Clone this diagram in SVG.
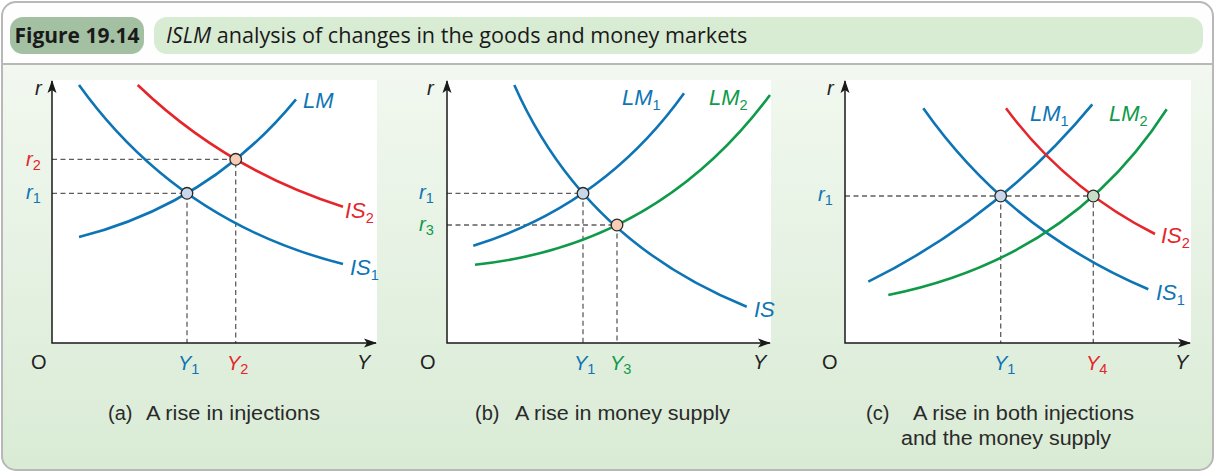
<svg xmlns="http://www.w3.org/2000/svg" width="1216" height="473" viewBox="0 0 1216 473">
<defs>
<linearGradient id="bg" x1="0" y1="0" x2="0" y2="1">
<stop offset="0" stop-color="#f6faf4"/>
<stop offset="1" stop-color="#d9ebd5"/>
</linearGradient>
<marker id="arr" viewBox="0 0 13 10" refX="12" refY="5" markerWidth="13" markerHeight="10" markerUnits="userSpaceOnUse" orient="auto-start-reverse">
<path d="M0,0.5 L13,5 L0,9.5 L3,5 Z" fill="#1a1a1a"/>
</marker>
<clipPath id="frameClip"><rect x="2" y="2" width="1211" height="468" rx="14"/></clipPath>
</defs>
<style>
.axis{fill:none;stroke:#1a1a1a;stroke-width:1.5;marker-start:url(#arr);marker-end:url(#arr)}
.dash{fill:none;stroke:#5e5e5e;stroke-width:1.3;stroke-dasharray:5 3.5}
.curve{fill:none;stroke-width:2.6;stroke-linecap:butt}
.blue{stroke:#0d75b5}
.red{stroke:#e5252a}
.green{stroke:#0f9a4a}
.pt{stroke:#2b2b2b;stroke-width:1.3}
.lbl{font-family:"Liberation Sans",Arial,sans-serif;font-style:italic;font-size:22px}
.ax{font-family:"Liberation Sans",Arial,sans-serif;font-size:20px;fill:#222}
.it{font-style:italic}
.sub{font-style:normal;font-size:14.5px}
.tb{fill:#0d75b5}
.tr{fill:#e5252a}
.tg{fill:#0f9a4a}
.cap{font-family:"Liberation Sans",Arial,sans-serif;font-size:20px;fill:#2a2a2a}
.plot{fill:#ffffff}
</style>
<g id="frame">
<rect x="2" y="2" width="1211" height="468" rx="14" fill="url(#bg)"/>
<rect x="2" y="2" width="1211" height="62" fill="#fdfefd" clip-path="url(#frameClip)"/>
<line x1="2" y1="64" x2="1213" y2="64" stroke="#b8b8b8" stroke-width="2"/>
<rect x="2" y="2" width="1211" height="468" rx="14" fill="none" stroke="#b8b8b8" stroke-width="2"/>
</g>
<g id="header">
<rect x="10" y="17" width="134" height="37" rx="13" fill="#a3c0a3"/>
<text x="77" y="43" text-anchor="middle" font-family="'Open Sans','Noto Sans',sans-serif" font-weight="bold" font-size="21" fill="#1a1a1a">Figure 19.14</text>
<rect x="154" y="17" width="1049" height="37" rx="13" fill="#d8ebd3"/>
<text x="166" y="43" font-family="'Open Sans','Noto Sans',sans-serif" font-size="21.6" fill="#1a1a1a"><tspan font-style="italic">ISLM</tspan> analysis of changes in the goods and money markets</text>
</g>
<g id="panel-a">
<rect class="plot" x="52" y="80" width="325" height="263"/>
<g id="a-guides">
<path class="dash" d="M52,159.3 H235.7 V343 M52,193.3 H187 V343"/>
</g>
<g id="a-curves">
<path id="a-LM" class="curve blue" d="M79,237 Q209.7,204.3 296,99.3"/>
<path id="a-IS1" class="curve blue" d="M79,85 Q177.9,222.4 343,264"/>
<path id="a-IS2" class="curve red" d="M137.7,85 Q226.2,169.9 343,206.7"/>
</g>
<path class="axis" d="M52,81 V343 H376"/>
<circle class="pt" cx="187" cy="193.3" r="5.8" fill="#c8d7ea"/>
<circle class="pt" cx="235.7" cy="159.3" r="5.8" fill="#f7cdb5"/>
<text class="lbl tb" x="303" y="108">LM</text>
<text class="lbl tr" x="345" y="218">IS<tspan class="sub" dy="5">2</tspan></text>
<text class="lbl tb" x="350" y="275">IS<tspan class="sub" dy="5">1</tspan></text>
<text class="ax it" x="35" y="95">r</text>
<text class="ax tr" x="26" y="166"><tspan class="it">r</tspan><tspan class="sub" dy="4">2</tspan></text>
<text class="ax tb" x="26" y="199"><tspan class="it">r</tspan><tspan class="sub" dy="4">1</tspan></text>
<text class="ax" x="31" y="369">O</text>
<text class="ax it" x="357" y="369">Y</text>
<text class="ax tb" x="178" y="370"><tspan class="it">Y</tspan><tspan class="sub" dy="4">1</tspan></text>
<text class="ax tr" x="227" y="370"><tspan class="it">Y</tspan><tspan class="sub" dy="4">2</tspan></text>
<text class="cap" x="108" y="420">(a)<tspan x="146" textLength="174" lengthAdjust="spacingAndGlyphs">A rise in injections</tspan></text>
</g>
<g id="panel-b">
<rect class="plot" x="447" y="80" width="324" height="263"/>
<g id="b-guides">
<path class="dash" d="M447,193.3 H583 V343 M447,225 H617 V343"/>
</g>
<g id="b-curves">
<path id="b-IS" class="curve blue" d="M514.3,85 Q583.4,240.7 746.7,306.7"/>
<path id="b-LM1" class="curve blue" d="M473.3,245.7 Q603.8,205.4 684,93.3"/>
<path id="b-LM2" class="curve green" d="M475,264.7 Q657.9,245.6 770,95"/>
</g>
<path class="axis" d="M447,81 V343 H770"/>
<circle class="pt" cx="583" cy="193.3" r="5.8" fill="#c8d7ea"/>
<circle class="pt" cx="617" cy="225" r="5.8" fill="#f7cdb5"/>
<text class="lbl tb" x="622" y="105">LM<tspan class="sub" dy="5">1</tspan></text>
<text class="lbl tg" x="709" y="105">LM<tspan class="sub" dy="5">2</tspan></text>
<text class="lbl tb" x="754" y="317">IS</text>
<text class="ax it" x="427" y="95">r</text>
<text class="ax tb" x="419" y="199"><tspan class="it">r</tspan><tspan class="sub" dy="4">1</tspan></text>
<text class="ax tg" x="419" y="231"><tspan class="it">r</tspan><tspan class="sub" dy="4">3</tspan></text>
<text class="ax" x="420" y="369">O</text>
<text class="ax it" x="753" y="369">Y</text>
<text class="ax tb" x="574" y="370"><tspan class="it">Y</tspan><tspan class="sub" dy="4">1</tspan></text>
<text class="ax tg" x="610" y="370"><tspan class="it">Y</tspan><tspan class="sub" dy="4">3</tspan></text>
<text class="cap" x="475" y="420">(b)<tspan x="515" textLength="215" lengthAdjust="spacingAndGlyphs">A rise in money supply</tspan></text>
</g>
<g id="panel-c">
<rect class="plot" x="845" y="80" width="346" height="263"/>
<g id="c-guides">
<path class="dash" d="M845,196 H1093.3 V343 M1000.7,196 V343"/>
</g>
<g id="c-curves">
<path id="c-IS1" class="curve blue" d="M923.3,108.3 Q1009.2,230.3 1148.3,289.3"/>
<path id="c-LM1" class="curve blue" d="M868.3,281.7 Q999.4,216.6 1092.3,104.3"/>
<path id="c-IS2" class="curve red" d="M1006,108.3 Q1066.5,189.4 1155,234"/>
<path id="c-LM2" class="curve green" d="M888.3,295 Q1070.9,258.2 1166.7,109.3"/>
</g>
<path class="axis" d="M845,81 V343 H1190"/>
<circle class="pt" cx="1000.7" cy="196" r="5.8" fill="#c8d7ea"/>
<circle class="pt" cx="1093.3" cy="196" r="5.8" fill="#c7dfc6"/>
<text class="lbl tb" x="1030" y="121">LM<tspan class="sub" dy="5">1</tspan></text>
<text class="lbl tg" x="1109" y="121">LM<tspan class="sub" dy="5">2</tspan></text>
<text class="lbl tr" x="1161" y="243">IS<tspan class="sub" dy="5">2</tspan></text>
<text class="lbl tb" x="1156" y="300">IS<tspan class="sub" dy="5">1</tspan></text>
<text class="ax it" x="827" y="95">r</text>
<text class="ax tb" x="818" y="201"><tspan class="it">r</tspan><tspan class="sub" dy="4">1</tspan></text>
<text class="ax" x="822" y="369">O</text>
<text class="ax it" x="1175" y="369">Y</text>
<text class="ax tb" x="994" y="370"><tspan class="it">Y</tspan><tspan class="sub" dy="4">1</tspan></text>
<text class="ax tr" x="1086" y="370"><tspan class="it">Y</tspan><tspan class="sub" dy="4">4</tspan></text>
<text class="cap" x="866" y="420">(c)<tspan x="913" textLength="221" lengthAdjust="spacingAndGlyphs">A rise in both injections</tspan></text>
<text class="cap" x="1006" y="445" text-anchor="middle" textLength="210" lengthAdjust="spacingAndGlyphs">and the money supply</text>
</g>
</svg>
